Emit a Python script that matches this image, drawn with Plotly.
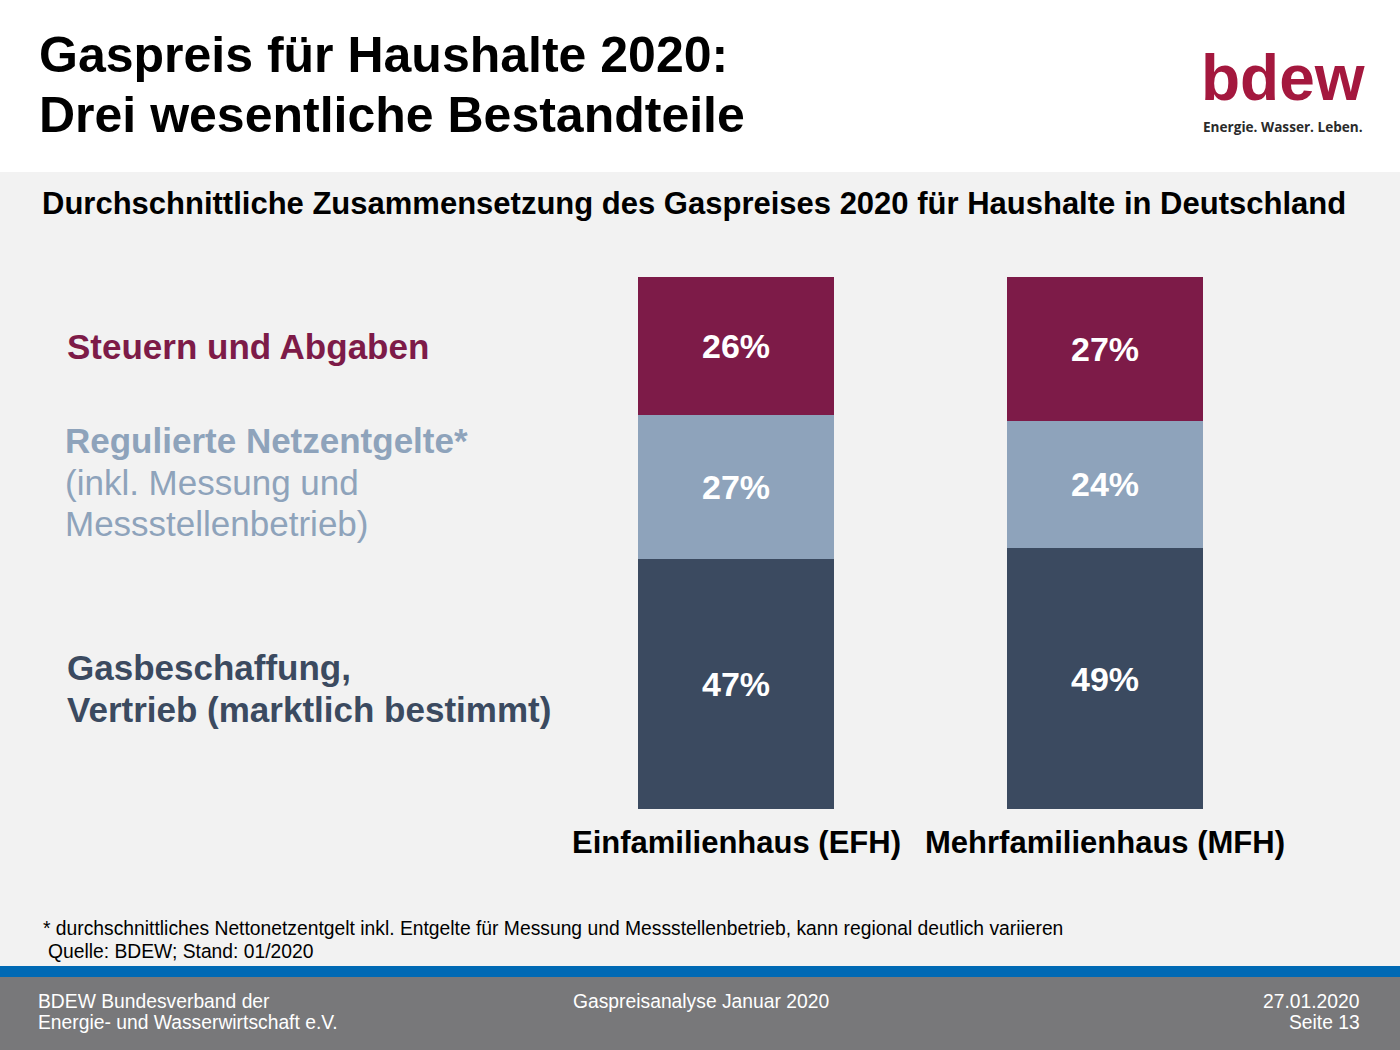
import plotly.graph_objects as go

categories = ["Einfamilienhaus (EFH)", "Mehrfamilienhaus (MFH)"]
series_names = ["Gasbeschaffung, Vertrieb (marktlich bestimmt)",
                "Regulierte Netzentgelte* (inkl. Messung und Messstellenbetrieb)",
                "Steuern und Abgaben"]
beschaffung = [47, 49]
netzentgelte = [27, 24]
steuern = [26, 27]

W, H = 1400, 1050
C_STEUER = "#7d1b48"
C_NETZ = "#8ea3bb"
C_BESCH = "#3b4a60"

def py(px):
    return 1 - px / H

fig = go.Figure()
for name, vals, col in [(series_names[0], beschaffung, C_BESCH),
                        (series_names[1], netzentgelte, C_NETZ),
                        (series_names[2], steuern, C_STEUER)]:
    fig.add_trace(go.Bar(
        x=[0, 1], y=vals, name=name, marker=dict(color=col, line=dict(width=0)),
        width=196 / 369,
        text=[f"{v}%" for v in vals], textposition="inside", insidetextanchor="middle",
        textfont=dict(family="Liberation Sans, Arial", size=34, color="white", weight="bold"),
        hoverinfo="skip", cliponaxis=False,
    ))

x0 = -736 / 369
x1 = (1400 - 736) / 369
fig.update_layout(
    width=W, height=H, barmode="stack", showlegend=False,
    margin=dict(l=0, r=0, t=0, b=0),
    paper_bgcolor="white", plot_bgcolor="rgba(0,0,0,0)",
    xaxis=dict(domain=[0, 1], range=[x0, x1], showgrid=False, zeroline=False,
               showticklabels=False, fixedrange=True),
    yaxis=dict(domain=[py(809), py(277)], range=[0, 100], showgrid=False,
               zeroline=False, showticklabels=False, fixedrange=True),
    font=dict(family="Liberation Sans, Arial"),
)

shapes = [
    dict(type="rect", xref="paper", yref="paper", x0=0, x1=1, y0=py(966), y1=py(172),
         fillcolor="#f2f2f2", line_width=0, layer="below"),
    dict(type="rect", xref="paper", yref="paper", x0=0, x1=1, y0=py(977), y1=py(966),
         fillcolor="#0069b4", line_width=0, layer="below"),
    dict(type="rect", xref="paper", yref="paper", x0=0, x1=1, y0=0, y1=py(977),
         fillcolor="#78787a", line_width=0, layer="below"),
]
fig.update_layout(shapes=shapes)

ann = []
def A(text, x, y, size, color, bold=False, xanchor="left", family="Liberation Sans, Arial", yanchor="middle"):
    ann.append(dict(text=text, x=x / W, y=py(y), xref="paper", yref="paper",
                    xanchor=xanchor, yanchor=yanchor, showarrow=False,
                    font=dict(family=family, size=size, color=color,
                              weight="bold" if bold else "normal")))

# title
A("Gaspreis für Haushalte 2020:", 37, 55, 50, "black", True)
A("Drei wesentliche Bestandteile", 37, 115, 50, "black", True)
# logo
A("bdew", 1199, 78, 64, "#a4183e", True, family="Liberation Sans, Arial")
A("Energie. Wasser. Leben.", 1201, 126, 13.6, "#2b2b2b", True, family="Open Sans, Arial")
# subtitle
A("Durchschnittliche Zusammensetzung des Gaspreises 2020 für Haushalte in Deutschland",
  40, 203, 31, "black", True)
# left labels
A("Steuern und Abgaben", 65, 346, 35, C_STEUER, True)
A("Regulierte Netzentgelte*", 63, 440, 35, C_NETZ, True)
A("(inkl. Messung und", 63, 482, 35, C_NETZ)
A("Messstellenbetrieb)", 63, 523, 35, C_NETZ)
A("Gasbeschaffung,", 65, 667, 35, C_BESCH, True)
A("Vertrieb (marktlich bestimmt)", 65, 709, 35, C_BESCH, True)
# category labels
for i, c in enumerate(categories):
    ann.append(dict(text=c, x=i, y=py(842), xref="x", yref="paper", xanchor="center",
                    yanchor="middle", showarrow=False,
                    font=dict(family="Liberation Sans, Arial", size=31, color="black", weight="bold")))
# footnote
A("* durchschnittliches Nettonetzentgelt inkl. Entgelte für Messung und Messstellenbetrieb, kann regional deutlich variieren",
  41, 928, 19.3, "black")
A("Quelle: BDEW; Stand: 01/2020", 46, 951, 19.3, "black")
# footer
NF = "Liberation Sans Narrow, Liberation Sans, Arial"
A("BDEW Bundesverband der", 36, 1001, 19.3, "white", family=NF)
A("Energie- und Wasserwirtschaft e.V.", 36, 1022, 19.3, "white", family=NF)
A("Gaspreisanalyse Januar 2020", 571, 1001, 19.3, "white", family=NF)
A("27.01.2020", 1362, 1001, 19.3, "white", xanchor="right", family=NF)
A("Seite 13", 1362, 1022, 19.3, "white", xanchor="right", family=NF)

fig.update_layout(annotations=ann)
fig.write_html("out.html")
